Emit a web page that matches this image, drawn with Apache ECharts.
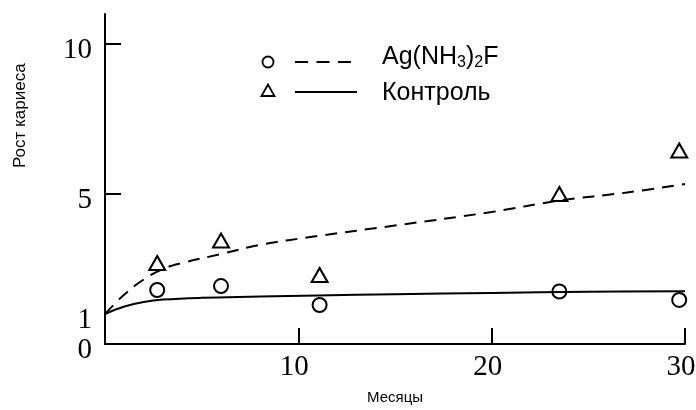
<!DOCTYPE html>
<html><head><meta charset="utf-8">
<script src="https://cdn.jsdelivr.net/npm/echarts@6/dist/echarts.min.js"></script>
<style>html,body{margin:0;padding:0;background:#fff}#c{width:696px;height:410px}</style>
</head><body><div id="c"></div>
<script>
var pointMonths = [2.7, 6.0, 11.1, 23.5, 29.7];
var triangleValues = [2.7, 3.45, 2.3, 5.0, 6.45];
var circleValues = [1.8, 1.93, 1.3, 1.75, 1.47];
var dashedX = [0, 1, 2, 3, 4, 6, 8, 11, 15, 20, 23.5, 27, 30];
var dashedY = [1, 1.65, 2.15, 2.5, 2.7, 3.0, 3.3, 3.6, 3.95, 4.4, 4.78, 5.05, 5.33];
var solidX = [0, 1, 2, 3, 5, 8, 11, 15, 20, 25, 30];
var solidY = [1, 1.25, 1.4, 1.48, 1.54, 1.58, 1.62, 1.66, 1.7, 1.74, 1.76];
var yLabelValues = [0, 1, 5, 10];
var yTickValues = [5, 10];
var xTickValues = [10, 20, 30];
var legendNames = ['Ag(NH{sub|3}){sub|2}F', 'Контроль'];
var xName = 'Месяцы';
var yName = 'Рост кариеса';

function zip(a, b) { return a.map(function (v, i) { return [v, b[i]]; }); }

var legendRich = { sub: { fontFamily: 'Liberation Sans', fontSize: 16, fill: '#000', verticalAlign: 'bottom', lineHeight: 20 } };

var chart = echarts.init(document.getElementById('c'));
chart.setOption({
  animation: false,
  grid: { left: 105, right: 11, top: 14, bottom: 66, outerBoundsMode: 'none', containLabel: false },
  xAxis: {
    type: 'value', min: 0, max: 30,
    name: xName, nameLocation: 'middle', nameGap: 46,
    nameTextStyle: { fontFamily: 'Liberation Sans', fontSize: 15, color: '#000' },
    axisLine: { lineStyle: { color: '#000', width: 2 } },
    axisTick: { show: true, inside: true, length: 16, customValues: xTickValues, lineStyle: { color: '#000', width: 2 } },
    axisLabel: { customValues: xTickValues, fontFamily: 'Liberation Serif', fontSize: 29, color: '#000', margin: 9, padding: [0, 8, 0, 0] },
    splitLine: { show: false }
  },
  yAxis: {
    type: 'value', min: 0, max: 11,
    axisLine: { show: true, lineStyle: { color: '#000', width: 2 } },
    axisTick: { show: true, inside: true, length: 16, customValues: yTickValues, lineStyle: { color: '#000', width: 2 } },
    axisLabel: { customValues: yLabelValues, fontFamily: 'Liberation Serif', fontSize: 29, color: '#000', margin: 13, verticalAlign: 'top', lineHeight: 12 },
    splitLine: { show: false }
  },
  graphic: [
    { type: 'text', x: 12, y: 168, rotation: Math.PI / 2, style: { text: yName, fontFamily: 'Liberation Sans', fontSize: 17, fill: '#000' } },
    { type: 'circle', shape: { cx: 268, cy: 62, r: 5.5 }, style: { fill: 'none', stroke: '#000', lineWidth: 1.8 } },
    { type: 'line', shape: { x1: 295, y1: 62, x2: 351, y2: 62 }, style: { stroke: '#000', lineWidth: 1.8, lineDash: [13, 8.5] } },
    { type: 'text', x: 382, y: 57, style: { text: legendNames[0], rich: legendRich, fontFamily: 'Liberation Sans', fontSize: 25, lineHeight: 28, fill: '#000', verticalAlign: 'middle' } },
    { type: 'polygon', shape: { points: [[268, 84.5], [261.5, 96], [274.5, 96]] }, style: { fill: 'none', stroke: '#000', lineWidth: 1.8 } },
    { type: 'line', shape: { x1: 295, y1: 92, x2: 357, y2: 92 }, style: { stroke: '#000', lineWidth: 1.8 } },
    { type: 'text', x: 382, y: 93, style: { text: legendNames[1], fontFamily: 'Liberation Sans', fontSize: 25, fill: '#000', verticalAlign: 'middle' } }
  ],
  series: [
    { type: 'line', data: zip(dashedX, dashedY), smooth: 0.4, showSymbol: false, lineStyle: { color: '#000', width: 2, type: [12, 8] } },
    { type: 'line', data: zip(solidX, solidY), smooth: 0.4, showSymbol: false, lineStyle: { color: '#000', width: 2 } },
    { type: 'scatter', data: zip(pointMonths, triangleValues), symbol: 'triangle', symbolSize: [16, 14], itemStyle: { color: '#fff', borderColor: '#000', borderWidth: 2, opacity: 1 } },
    { type: 'scatter', data: zip(pointMonths, circleValues), symbol: 'circle', symbolSize: 14, itemStyle: { color: '#fff', borderColor: '#000', borderWidth: 2, opacity: 1 } }
  ]
});
</script></body></html>
